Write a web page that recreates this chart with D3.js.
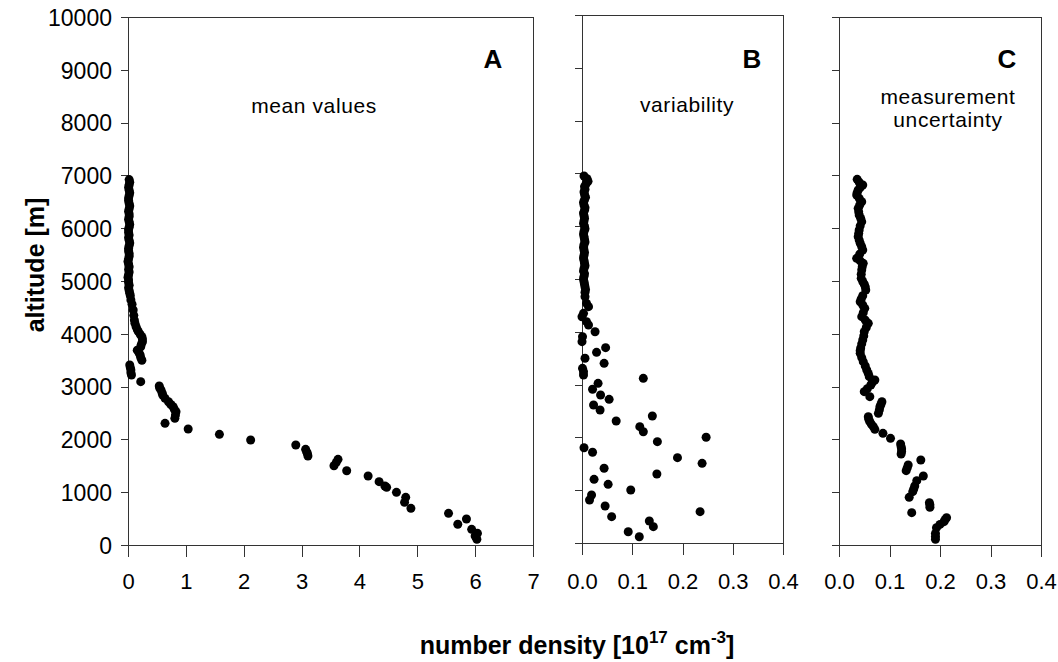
<!DOCTYPE html>
<html>
<head>
<meta charset="utf-8">
<script src="https://cdn.jsdelivr.net/npm/d3@7"></script>
<style>
  html, body { margin: 0; padding: 0; background: #fff; }
  svg { display: block; font-family: "Liberation Sans", Arial, sans-serif; }
</style>
</head>
<body>
<script>
// ---------------- DATA ----------------
// Panel A: mean values (10^17 cm^-3) vs altitude (m)
const altA = [6920,6870,6820,6770,6720,6670,6620,6570,6520,6470,6420,6370,6320,6270,6220,6170,6120,6070,6020,5970,5920,5870,5820,5770,5720,5670,5620,5570,5520,5470,5420,5370,5320,5270,5220,5170,5120,5070,5020,4970,4920,4870,4820,4770,4720,
  4640,4560,4450,4350,4260,4200,4135,4080,4040,3990,3945,3900,3850,3800,3755,3690,3640,3600,3550,3500,
  3410,3360,3315,3260,3220,3093,3011,2970,2935,2880,2841,2778,2714,2660,2620,2570,2525,2460,2399,2304,
  2197,2096,1989,1894,1812,1760,1736,1686,1622,1566,1502,1407,1307,1199,1117,1092,997,903,808,694,600,492,392,297,221,170,108];
const valA = [0.02,0.03,0.02,0.01,0.02,0.03,0.02,0.01,0.01,0.02,0.03,0.02,0.01,0.02,0.02,0.01,0.02,0.03,0.02,0.01,0.01,0.02,0.01,0.02,0.03,0.02,0.01,0.01,0.02,0.02,0.01,0.00,0.01,0.02,0.01,0.02,0.01,0.00,0.01,0.01,0.02,0.01,0.02,0.03,0.04,
  0.05,0.07,0.09,0.10,0.11,0.12,0.14,0.16,0.18,0.21,0.24,0.25,0.25,0.23,0.22,0.16,0.19,0.21,0.22,0.24,
  0.03,0.04,0.05,0.05,0.06,0.22,0.54,0.55,0.57,0.59,0.60,0.64,0.70,0.74,0.78,0.80,0.83,0.82,0.81,0.64,
  1.04,1.58,2.12,2.90,3.07,3.09,3.10,3.11,3.63,3.60,3.56,3.78,4.15,4.34,4.44,4.47,4.64,4.80,4.78,4.89,5.54,5.85,5.70,5.94,6.04,6.00,6.03];

// Panel B: variability
const altB = [6950,6900,6850,6800,6750,6700,6650,6600,6550,6500,6450,6400,6350,6300,6250,6200,6150,6100,6050,6000,5950,5900,5850,5800,5750,5700,5650,5600,5550,5500,5450,5400,5350,5300,5250,5200,5150,5100,5050,5000,4950,4900,4850,4800,4750,
  4665,4539,4476,4350,4286,4192,4129,4002,3907,3813,3699,3611,3498,3403,3308,3245,3182,3119,3024,2911,2803,2721,2614,2519,2405,2310,2203,2108,2002,1919,
  1805,1718,1616,1509,1415,1307,1206,1111,1004,909,814,701,593,499,417,309,214,119];
const valB = [0.004,0.010,0.012,0.008,0.005,0.006,0.004,0.005,0.007,0.005,0.003,0.004,0.006,0.005,0.003,0.004,0.005,0.004,0.003,0.005,0.006,0.004,0.003,0.004,0.005,0.006,0.004,0.003,0.004,0.005,0.004,0.003,0.004,0.005,0.006,0.004,0.003,0.005,0.004,0.003,0.004,0.005,0.006,0.007,0.006,
  0.006,0.009,0.013,0.003,0.000,0.009,0.013,0.026,0.001,0.000,0.047,0.029,0.006,0.044,0.001,0.003,0.003,0.122,0.032,0.021,0.037,0.054,0.023,0.036,0.140,0.068,0.115,0.122,0.247,0.150,
  0.004,0.021,0.190,0.239,0.044,0.149,0.024,0.052,0.097,0.019,0.015,0.046,0.235,0.059,0.134,0.142,0.092,0.114];

// Panel C: measurement uncertainty
const altC = [6926,6870,6818,6770,6723,6675,6629,6565,6502,6440,6376,6310,6250,6185,6124,6045,5966,5900,5840,5775,5714,5650,5587,5510,5429,5380,5335,5270,5208,5130,5050,4990,4940,4890,4830,4720,4660,4608,4545,4482,4400,4324,4260,4198,4120,4040,3960,3883,3810,3730,3680,3630,3550,3472,3390,3314,3250,3188,3125,3080,3030,2960,2904,2809,2714,2660,2620,2560,2494,2430,2380,2336,2290,2241,2191,2115,2020,1913,1860,1818,1770,1724,1610,1515,1460,1408,1307,1218,1117,1060,1010,903,801,760,714,612,517,480,442,390,328,221,160,108];
const valC = [0.036,0.040,0.047,0.042,0.038,0.036,0.035,0.040,0.045,0.041,0.038,0.039,0.040,0.043,0.045,0.042,0.040,0.039,0.038,0.040,0.042,0.045,0.047,0.041,0.035,0.042,0.048,0.046,0.045,0.044,0.044,0.047,0.050,0.052,0.053,0.047,0.044,0.042,0.047,0.051,0.048,0.045,0.052,0.058,0.054,0.050,0.049,0.047,0.045,0.043,0.042,0.042,0.045,0.048,0.052,0.055,0.058,0.060,0.071,0.066,0.063,0.056,0.050,0.061,0.085,0.083,0.081,0.080,0.078,0.058,0.059,0.061,0.064,0.068,0.071,0.087,0.102,0.122,0.123,0.124,0.124,0.123,0.162,0.137,0.135,0.133,0.167,0.154,0.150,0.148,0.146,0.139,0.179,0.180,0.180,0.144,0.213,0.210,0.208,0.200,0.193,0.191,0.191,0.191];

const altTicks = [0,1000,2000,3000,4000,5000,6000,7000,8000,9000,10000];
const ticksA = [0,1,2,3,4,5,6,7];
const ticksBC = [0.0,0.1,0.2,0.3,0.4];
const panelLetters = ["A","B","C"];
const panelNotes = [["mean values"],["variability"],["measurement","uncertainty"]];
const yTitle = "altitude [m]";

// ---------------- LAYOUT ----------------
const W = 1058, H = 662;
const svg = d3.select("body").append("svg").attr("width", W).attr("height", H);

const panels = [
  {alt: altA, val: valA, x0: 128, x1: 533, y0: 545, y1: 17, dom: [0,7], ticks: ticksA, fmt: d3.format("d"), labels: true,
   letterX: 493, noteX: 314, noteY: [113]},
  {alt: altB, val: valB, x0: 582, x1: 783, y0: 543, y1: 15, dom: [0,0.4], ticks: ticksBC, fmt: d3.format(".1f"), labels: false,
   letterX: 752, noteX: 687, noteY: [112]},
  {alt: altC, val: valC, x0: 839, x1: 1041, y0: 545, y1: 17, dom: [0,0.4], ticks: ticksBC, fmt: d3.format(".1f"), labels: false,
   letterX: 1007, noteX: 948, noteY: [104, 127]}
];

const axisColor = "#333";

panels.forEach((p, i) => {
  const x = d3.scaleLinear().domain(p.dom).range([p.x0, p.x1]);
  const y = d3.scaleLinear().domain([0, 10000]).range([p.y0, p.y1]);
  const g = svg.append("g");

  // box top + right
  g.append("line").attr("x1", p.x0).attr("x2", p.x1).attr("y1", p.y1).attr("y2", p.y1)
    .attr("stroke", axisColor).attr("stroke-width", 1).attr("shape-rendering","crispEdges");
  g.append("line").attr("x1", p.x1).attr("x2", p.x1).attr("y1", p.y1).attr("y2", p.y0)
    .attr("stroke", axisColor).attr("stroke-width", 1).attr("shape-rendering","crispEdges");

  // y axis
  const ya = d3.axisLeft(y).tickValues(altTicks).tickSize(7).tickSizeOuter(0)
    .tickFormat(p.labels ? d3.format("d") : "");
  const yg = g.append("g").attr("transform", `translate(${p.x0},0)`).call(ya);
  yg.select(".domain").attr("stroke", axisColor).attr("shape-rendering","crispEdges");
  yg.selectAll(".tick line").attr("stroke", axisColor).attr("shape-rendering","crispEdges");
  yg.selectAll(".tick text").attr("font-size", 23).attr("fill", "#000")
    .attr("font-family", "Liberation Sans, Arial, sans-serif").attr("x", -16).attr("dy", "0.36em");

  // x axis
  const xa = d3.axisBottom(x).tickValues(p.ticks).tickSize(12).tickSizeOuter(0).tickFormat(p.fmt);
  const xg = g.append("g").attr("transform", `translate(0,${p.y0})`).call(xa);
  xg.select(".domain").attr("stroke", axisColor).attr("shape-rendering","crispEdges");
  xg.selectAll(".tick line").attr("stroke", axisColor).attr("shape-rendering","crispEdges");
  xg.selectAll(".tick text").attr("font-size", 22).attr("fill", "#000")
    .attr("font-family", "Liberation Sans, Arial, sans-serif").attr("y", 44 - (p.y0 - 545)).attr("dy", 0);

  // points
  const pts = p.alt.map((a, k) => ({a, v: p.val[k]}));
  g.append("g").selectAll("circle").data(pts).join("circle")
    .attr("cx", d => x(d.v)).attr("cy", d => y(d.a)).attr("r", 4.5).attr("fill", "#000");

  // letter
  g.append("text").attr("x", p.letterX).attr("y", 68).attr("text-anchor", "middle")
    .attr("font-size", 26).attr("font-weight", "bold").attr("fill", "#000").text(panelLetters[i]);

  // notes
  panelNotes[i].forEach((t, k) => {
    g.append("text").attr("x", p.noteX).attr("y", p.noteY[k]).attr("text-anchor", "middle")
      .attr("font-size", 21).attr("letter-spacing", "0.6px").attr("fill", "#000").text(t);
  });
});

// y title
svg.append("text").attr("transform", "translate(44,265) rotate(-90)").attr("text-anchor", "middle")
  .attr("font-size", 25).attr("font-weight", "bold").attr("fill", "#000").text(yTitle);

// x title
const xt = svg.append("text").attr("x", 577).attr("y", 654).attr("text-anchor", "middle")
  .attr("font-size", 25).attr("font-weight", "bold").attr("fill", "#000");
xt.append("tspan").text("number density [10");
xt.append("tspan").attr("font-size", 17).attr("dy", -11).text("17");
xt.append("tspan").attr("dy", 11).text(" cm");
xt.append("tspan").attr("font-size", 17).attr("dy", -11).text("-3");
xt.append("tspan").attr("dy", 11).text("]");
</script>
</body>
</html>
